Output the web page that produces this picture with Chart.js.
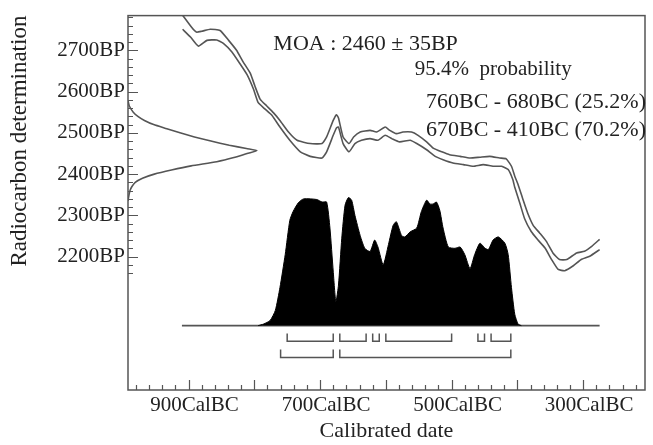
<!DOCTYPE html>
<html>
<head>
<meta charset="utf-8">
<script src="https://cdn.jsdelivr.net/npm/chart.js@4.4.1/dist/chart.umd.min.js"></script>
<style>
  html, body { margin: 0; padding: 0; background: #fff; }
</style>
</head>
<body>
<canvas id="calChart" width="653" height="445"></canvas>
<script>
const SERIF = "'Liberation Serif', 'Times New Roman', 'DejaVu Serif', serif";

// tick labels
const xTickYears = [900, 700, 500, 300];
const yTickBP = [2200, 2300, 2400, 2500, 2600, 2700];

// calibration curve, upper and lower edge: [cal BC, BP]
const upperEdge = [
  [910, 2787], [895, 2755], [888, 2744], [880, 2746], [867, 2751], [852, 2748], [839, 2724],
  [827, 2700], [817, 2672], [806, 2644], [799, 2613], [791, 2581], [781, 2565], [771, 2549],
  [761, 2530], [748, 2502], [735, 2482], [715, 2474], [697, 2474], [690, 2490], [680, 2530],
  [675, 2544], [672, 2536], [665, 2490], [656, 2474], [649, 2490], [639, 2502], [624, 2506],
  [614, 2502], [601, 2514], [594, 2506], [584, 2498], [574, 2502], [561, 2502], [551, 2494],
  [538, 2478], [528, 2463], [515, 2454], [503, 2447], [487, 2443], [472, 2439], [457, 2441],
  [442, 2443], [427, 2439], [417, 2437], [409, 2419], [404, 2395], [399, 2375], [391, 2336],
  [384, 2304], [376, 2276], [366, 2257], [356, 2237], [346, 2209], [336, 2193], [325, 2193],
  [310, 2209], [298, 2213], [287, 2225], [275, 2242]
];
const lowerEdge = [
  [909, 2751], [897, 2732], [885, 2710], [872, 2724], [857, 2725], [847, 2717], [834, 2696],
  [822, 2668], [811, 2641], [801, 2605], [794, 2573], [784, 2558], [773, 2542], [761, 2514],
  [746, 2482], [730, 2454], [715, 2443], [697, 2439], [690, 2454], [680, 2494], [675, 2512],
  [672, 2514], [665, 2474], [656, 2454], [647, 2474], [637, 2482], [624, 2486], [612, 2482],
  [601, 2494], [591, 2486], [579, 2478], [563, 2482], [553, 2474], [538, 2459], [525, 2443],
  [513, 2435], [498, 2427], [482, 2423], [467, 2419], [452, 2423], [437, 2419], [424, 2419],
  [414, 2411], [407, 2387], [404, 2368], [396, 2328], [389, 2292], [379, 2261], [369, 2241],
  [358, 2221], [348, 2193], [338, 2169], [328, 2166], [315, 2178], [303, 2193], [290, 2201],
  [275, 2217]
];

// measured age distribution: [BP, cal BC drawn from left axis]
const ageCurve = [
  [2578, 992], [2565, 990], [2550, 984], [2540, 977], [2530, 967], [2520, 953], [2510, 933],
  [2500, 913], [2490, 891], [2480, 866], [2470, 838], [2462, 812], [2457, 796], [2450, 811],
  [2440, 831], [2430, 857], [2420, 896], [2410, 926], [2400, 952], [2390, 970], [2380, 981],
  [2370, 986], [2360, 989], [2345, 991], [2335, 992]
];

// calibrated probability: [cal BC, relative probability]
const calibratedProb = [
  [794, 0], [786, 0.012], [776, 0.04], [768, 0.12], [761, 0.30], [753, 0.56], [746, 0.83],
  [741, 0.90], [733, 0.97], [725, 1.0], [705, 0.995], [697, 0.975], [690, 0.975], [685, 0.77],
  [680, 0.43], [676, 0.19], [672, 0.32], [667, 0.69], [662, 0.95], [657, 1.01], [652, 0.99],
  [647, 0.87], [639, 0.71], [632, 0.61], [624, 0.585], [617, 0.675], [612, 0.62], [604, 0.48],
  [596, 0.64], [589, 0.79], [584, 0.82], [576, 0.71], [571, 0.70], [563, 0.74], [553, 0.77],
  [546, 0.90], [538, 0.99], [533, 0.96], [528, 0.96], [523, 0.975], [518, 0.91], [513, 0.77],
  [505, 0.62], [495, 0.61], [487, 0.62], [480, 0.56], [472, 0.45], [465, 0.56], [457, 0.65],
  [449, 0.61], [444, 0.60], [437, 0.675], [429, 0.70], [419, 0.65], [414, 0.56], [409, 0.30],
  [404, 0.09], [399, 0.012], [394, 0]
];
const probBaseYears = [910, 275];

// 68.2% and 95.4% ranges, cal BC
const range68 = [[750, 680], [670, 630], [620, 610], [600, 500], [460, 450], [440, 410]];
const range95 = [[760, 680], [670, 410]];

const PROB_BASE = 2033;
const PROB_SCALE = 307;
const ROW68 = 1995;
const ROW95 = 1956;
const BRACKET_LIFT = 19;

const notes = [
  { text: 'MOA : 2460 \u00b1 35BP', year: 771, bp: 2700, size: 22 },
  { text: '95.4%  probability', year: 556, bp: 2641, size: 21 },
  { text: '760BC - 680BC (25.2%)', year: 539, bp: 2561, size: 22 },
  { text: '670BC - 410BC (70.2%)', year: 539, bp: 2492, size: 22 }
];

const toXY = pairs => pairs.map(([yr, bp]) => ({ x: -yr, y: bp }));

function bracketPoints(ranges, level) {
  const pts = [];
  ranges.forEach(([a, b]) => {
    pts.push({ x: -a, y: level + BRACKET_LIFT }, { x: -a, y: level },
             { x: -b, y: level }, { x: -b, y: level + BRACKET_LIFT }, { x: -b, y: null });
  });
  return pts;
}

const frameAndNotes = {
  id: 'frameAndNotes',
  afterDatasetsDraw(chart) {
    const { ctx, chartArea: a, scales: { x, y } } = chart;
    ctx.save();
    ctx.strokeStyle = '#555';
    ctx.lineWidth = 1.5;
    ctx.strokeRect(a.left, a.top, a.right - a.left, a.bottom - a.top);

    // inward tick marks
    ctx.lineWidth = 1.2;
    ctx.beginPath();
    for (let v = 980; v >= 220; v -= 20) {
      const px = Math.round(x.getPixelForValue(-v)) + 0.5;
      const len = v % 100 === 0 ? 10 : 5;
      ctx.moveTo(px, a.bottom);
      ctx.lineTo(px, a.bottom - len);
    }
    for (let v = 2160; v <= 2780; v += 20) {
      const py = Math.round(y.getPixelForValue(v)) + 0.5;
      const len = v % 100 === 0 ? 10 : 5;
      ctx.moveTo(a.left, py);
      ctx.lineTo(a.left + len, py);
    }
    ctx.stroke();

    ctx.fillStyle = '#222';
    ctx.textBaseline = 'alphabetic';
    ctx.textAlign = 'left';
    notes.forEach(n => {
      ctx.font = `${n.size}px ${SERIF}`;
      ctx.fillText(n.text, x.getPixelForValue(-n.year), y.getPixelForValue(n.bp));
    });
    ctx.restore();
  }
};

const lineStyle = { borderColor: '#555', borderWidth: 1.6, pointRadius: 0, fill: false };

new Chart(document.getElementById('calChart'), {
  type: 'line',
  data: {
    datasets: [
      {
        data: calibratedProb.map(([yr, p]) => ({ x: -yr, y: PROB_BASE + p * PROB_SCALE })),
        borderColor: '#000', backgroundColor: '#000', borderWidth: 1,
        pointRadius: 0, tension: 0.2, fill: { value: PROB_BASE }
      },
      { ...lineStyle, data: probBaseYears.map(yr => ({ x: -yr, y: PROB_BASE })) },
      { ...lineStyle, data: toXY(upperEdge), tension: 0.15 },
      { ...lineStyle, data: toXY(lowerEdge), tension: 0.15 },
      { ...lineStyle, data: ageCurve.map(([bp, yr]) => ({ x: -yr, y: bp })), tension: 0.2 },
      { ...lineStyle, data: bracketPoints(range68, ROW68), borderWidth: 1.5 },
      { ...lineStyle, data: bracketPoints(range95, ROW95), borderWidth: 1.5 }
    ]
  },
  options: {
    responsive: false,
    animation: false,
    layout: { padding: { top: 8, right: 8, left: 0, bottom: 0 } },
    plugins: { legend: { display: false }, tooltip: { enabled: false } },
    scales: {
      x: {
        type: 'linear',
        min: -992,
        max: -206,
        afterBuildTicks: s => { s.ticks = xTickYears.map(v => ({ value: -v })); },
        afterFit: s => { s.height = 55; },
        grid: { display: false, drawTicks: false },
        border: { display: false },
        ticks: {
          autoSkip: false, maxRotation: 0, padding: 3, labelOffset: 6, color: '#222',
          font: { family: SERIF, size: 21 },
          callback: v => `${-v}CalBC`
        },
        title: {
          display: true, text: 'Calibrated date', color: '#222',
          font: { family: SERIF, size: 22 }, padding: { top: 0, bottom: 1 }
        }
      },
      y: {
        type: 'linear',
        min: 1877,
        max: 2784,
        afterBuildTicks: s => { s.ticks = yTickBP.map(v => ({ value: v })); },
        afterFit: s => { s.width = 128; },
        grid: { display: false, drawTicks: false },
        border: { display: false },
        ticks: {
          autoSkip: false, padding: 3, color: '#222',
          font: { family: SERIF, size: 21 },
          callback: v => `${v}BP`
        },
        title: {
          display: true, text: 'Radiocarbon determination', align: 'end', color: '#222',
          font: { family: SERIF, size: 23 }, padding: { top: 6, bottom: 0 }
        }
      }
    }
  },
  plugins: [frameAndNotes]
});
</script>
</body>
</html>
